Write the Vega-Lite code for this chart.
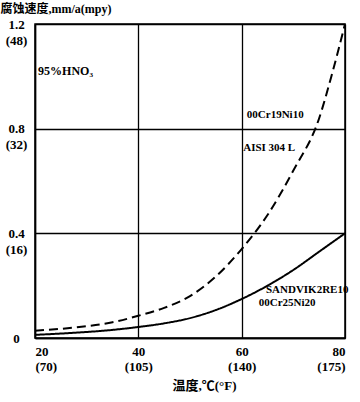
{
  "$schema": "https://vega.github.io/schema/vega-lite/v6.json",
  "autosize": "none",
  "padding": {"left": 35, "top": 24, "right": 15, "bottom": 64},
  "width": 310,
  "height": 314,
  "background": "white",
  "config": {
    "view": {"stroke": "black", "strokeWidth": 1.5},
    "font": "Liberation Serif"
  },
  "datasets": {
    "curves": [
      {"t": 20, "rate": 0.028, "alloy": "AISI 304 L"},
      {"t": 25, "rate": 0.035, "alloy": "AISI 304 L"},
      {"t": 30, "rate": 0.045, "alloy": "AISI 304 L"},
      {"t": 35, "rate": 0.06, "alloy": "AISI 304 L"},
      {"t": 40, "rate": 0.085, "alloy": "AISI 304 L"},
      {"t": 45, "rate": 0.115, "alloy": "AISI 304 L"},
      {"t": 50, "rate": 0.16, "alloy": "AISI 304 L"},
      {"t": 55, "rate": 0.235, "alloy": "AISI 304 L"},
      {"t": 60, "rate": 0.34, "alloy": "AISI 304 L"},
      {"t": 65, "rate": 0.47, "alloy": "AISI 304 L"},
      {"t": 70, "rate": 0.64, "alloy": "AISI 304 L"},
      {"t": 75, "rate": 0.84, "alloy": "AISI 304 L"},
      {"t": 77.5, "rate": 1.01, "alloy": "AISI 304 L"},
      {"t": 80, "rate": 1.2, "alloy": "AISI 304 L"},
      {"t": 20, "rate": 0.012, "alloy": "SANDVIK2RE10"},
      {"t": 25, "rate": 0.017, "alloy": "SANDVIK2RE10"},
      {"t": 30, "rate": 0.023, "alloy": "SANDVIK2RE10"},
      {"t": 35, "rate": 0.031, "alloy": "SANDVIK2RE10"},
      {"t": 40, "rate": 0.042, "alloy": "SANDVIK2RE10"},
      {"t": 45, "rate": 0.056, "alloy": "SANDVIK2RE10"},
      {"t": 50, "rate": 0.076, "alloy": "SANDVIK2RE10"},
      {"t": 55, "rate": 0.107, "alloy": "SANDVIK2RE10"},
      {"t": 60, "rate": 0.149, "alloy": "SANDVIK2RE10"},
      {"t": 65, "rate": 0.2, "alloy": "SANDVIK2RE10"},
      {"t": 70, "rate": 0.26, "alloy": "SANDVIK2RE10"},
      {"t": 75, "rate": 0.33, "alloy": "SANDVIK2RE10"},
      {"t": 80, "rate": 0.4, "alloy": "SANDVIK2RE10"}
    ],
    "labels": [
      {"t": 20.6, "rate": 1.02, "text": "95%HNO₃", "size": "big"},
      {"t": 61.0, "rate": 0.853, "text": "00Cr19Ni10", "size": "small"},
      {"t": 60.3, "rate": 0.728, "text": "AISI 304 L", "size": "small"},
      {"t": 64.7, "rate": 0.184, "text": "SANDVIK2RE10", "size": "small"},
      {"t": 63.3, "rate": 0.134, "text": "00Cr25Ni20", "size": "small"}
    ]
  },
  "layer": [
    {
      "data": {"name": "curves"},
      "mark": {"type": "line", "color": "black", "strokeWidth": 2, "clip": true, "interpolate": "monotone"},
      "encoding": {
        "x": {
          "field": "t", "type": "quantitative",
          "scale": {"domain": [20, 80], "nice": false, "zero": false},
          "axis": {
            "values": [20, 40, 60, 80],
            "grid": true, "gridColor": "black", "gridWidth": 1.3, "gridOpacity": 1,
            "domain": true, "domainColor": "black", "domainWidth": 1.5,
            "ticks": false, "tickSize": 0,
            "labelExpr": "[datum.label, datum.value == 20 ? '(70)' : datum.value == 40 ? '(105)' : datum.value == 60 ? '(140)' : '(175)']",
            "labelFont": "Liberation Serif", "labelFontWeight": "bold", "labelFontSize": 13,
            "labelColor": "black", "labelPadding": 7, "labelLineHeight": 15,
            "title": "温度,℃(°F)",
            "titleFont": "Liberation Serif, Noto Sans CJK SC", "titleFontWeight": "bold", "titleFontSize": 13,
            "titleColor": "black", "titleAnchor": "middle", "titleX": 169, "titleY": 47, "titleBaseline": "middle"
          }
        },
        "y": {
          "field": "rate", "type": "quantitative",
          "scale": {"domain": [0, 1.2], "nice": false},
          "axis": {
            "values": [0, 0.4, 0.8, 1.2],
            "grid": true, "gridColor": "black", "gridWidth": 1.3, "gridOpacity": 1,
            "domain": true, "domainColor": "black", "domainWidth": 1.5,
            "ticks": false, "tickSize": 0,
            "labelExpr": "datum.value == 0 ? '0' : [format(datum.value, '.1f'), '(' + round(datum.value * 40) + ')']",
            "labelFont": "Liberation Serif", "labelFontWeight": "bold", "labelFontSize": 13,
            "labelColor": "black", "labelAlign": "center", "labelPadding": 19, "labelLineHeight": 16,
            "title": "腐蚀速度,mm/a(mpy)",
            "titleFont": "Liberation Serif, Noto Sans CJK SC", "titleFontWeight": "bold", "titleFontSize": 12,
            "titleColor": "black", "titleAngle": 0, "titleAlign": "left", "titleBaseline": "middle",
            "titleX": -35, "titleY": -16
          }
        },
        "strokeDash": {
          "field": "alloy", "type": "nominal",
          "scale": {"domain": ["AISI 304 L", "SANDVIK2RE10"], "range": [[9, 5], [1, 0]]},
          "legend": null
        }
      }
    },
    {
      "data": {"name": "labels"},
      "mark": {"type": "text", "align": "left", "baseline": "middle", "font": "Liberation Serif", "fontWeight": "bold", "color": "black"},
      "encoding": {
        "x": {"field": "t", "type": "quantitative"},
        "y": {"field": "rate", "type": "quantitative"},
        "text": {"field": "text"},
        "size": {
          "field": "size", "type": "nominal",
          "scale": {"domain": ["big", "small"], "range": [12, 11]},
          "legend": null
        }
      }
    }
  ]
}
